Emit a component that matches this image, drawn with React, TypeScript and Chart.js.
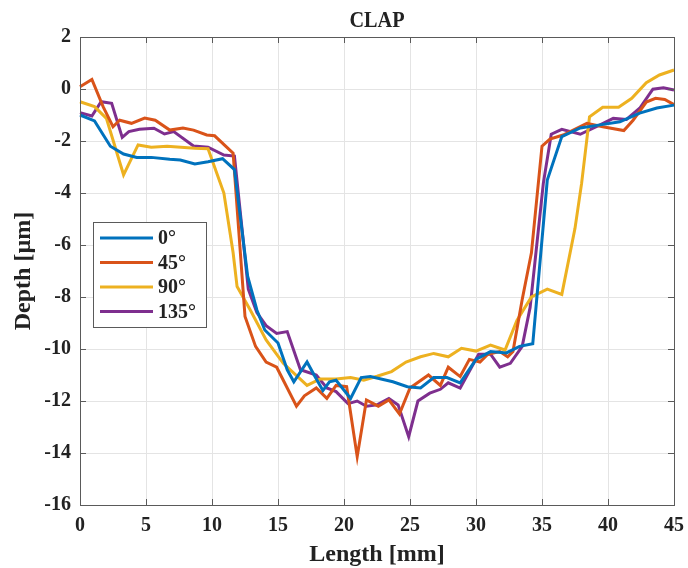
import React, { useEffect, useRef } from "react";
import { Chart, registerables } from "chart.js";

Chart.register(...registerables);

const TITLE = "CLAP";
const X_TITLE = "Length [mm]";
const Y_TITLE = "Depth [µm]";
const SERIES_LABELS = ["0°", "45°", "90°", "135°"];
const SERIES_COLORS = ["#0072BD", "#D95319", "#EDB120", "#7E2F8E"];

const X_MIN = 0;
const X_MAX = 45;
const X_STEP = 5;
const Y_MIN = -16;
const Y_MAX = 2;
const Y_STEP = 2;

const x0 = [0, 1.1, 2.3, 3.3, 4.3, 5.4, 6.8, 7.6, 8.7, 9.7, 10.8, 11.7, 12.7, 13.4, 14, 15, 15.7, 16.2, 17.2, 17.8, 18.4, 18.9, 19.4, 20.5, 21.3, 22, 23.7, 24.8, 25.8, 26.8, 27.8, 28.8, 30, 31.1, 32.3, 33.3, 34.3, 35.4, 36.5, 37.9, 39.4, 40.9, 42.4, 43.7, 45];
const y0 = [-1.0, -1.23, -2.2, -2.5, -2.63, -2.63, -2.7, -2.73, -2.88, -2.8, -2.68, -3.1, -7.2, -8.5, -9.27, -9.77, -10.8, -11.26, -10.5, -11.06, -11.6, -11.26, -11.2, -11.9, -11.1, -11.06, -11.26, -11.45, -11.5, -11.1, -11.1, -11.3, -10.4, -10.1, -10.15, -9.9, -9.8, -3.5, -1.83, -1.5, -1.38, -1.26, -0.93, -0.73, -0.62];

const x45 = [0, 0.9, 1.75, 2.5, 3.0, 3.9, 4.9, 5.7, 6.8, 7.8, 8.6, 9.6, 10.2, 11.6, 12.5, 13.3, 14.1, 14.9, 16.4, 17, 17.9, 18.7, 19.4, 20.2, 21, 21.7, 22.6, 23.4, 24.2, 25, 26.4, 27.3, 27.9, 28.8, 29.5, 30.3, 30.9, 31.8, 32.4, 32.8, 33.5, 34.2, 35, 35.6, 36.6, 38.4, 39.6, 41.2, 41.9, 42.9, 43.6, 44.3, 45];
const y45 = [0.09, 0.37, -0.68, -1.45, -1.2, -1.32, -1.12, -1.2, -1.58, -1.5, -1.58, -1.77, -1.8, -2.47, -8.75, -9.9, -10.5, -10.7, -12.2, -11.8, -11.5, -11.9, -11.4, -11.45, -14.14, -11.96, -12.2, -11.96, -12.5, -11.5, -11.0, -11.4, -10.7, -11.06, -10.4, -10.5, -10.2, -10.1, -10.3, -10.1, -8.1, -6.3, -2.2, -1.93, -1.77, -1.32, -1.45, -1.6, -1.2, -0.5, -0.36, -0.4, -0.6];

const x90 = [0, 1.1, 2, 3.3, 4.4, 5.4, 6.6, 8.7, 9.7, 10.9, 11.6, 11.9, 12.9, 14.1, 15.4, 17.2, 18.2, 19.4, 20.5, 21.5, 22.5, 23.6, 24.7, 25.8, 26.8, 27.9, 28.9, 30, 31.1, 32.2, 33.1, 34.2, 35.4, 36.5, 37.5, 38.0, 38.6, 39.6, 40.8, 41.8, 42.9, 43.9, 45];
const y90 = [-0.49, -0.68, -1.13, -3.3, -2.15, -2.24, -2.2, -2.28, -2.3, -4.0, -6.3, -7.6, -8.5, -9.65, -10.55, -11.4, -11.15, -11.15, -11.1, -11.2, -11.05, -10.87, -10.5, -10.3, -10.17, -10.3, -9.97, -10.08, -9.85, -10.04, -8.9, -8.0, -7.7, -7.9, -5.36, -3.63, -1.07, -0.7, -0.7, -0.36, 0.24, 0.54, 0.73];

const x135 = [0, 0.9, 1.6, 2.4, 3.2, 3.7, 4.5, 5.6, 6.4, 7.1, 8.6, 9.7, 10.9, 11.7, 12.75, 13.4, 14.1, 14.9, 15.7, 16.7, 17.9, 18.7, 19.4, 20.3, 21, 21.7, 22.5, 23.4, 24.1, 24.9, 25.6, 26.5, 27.3, 27.9, 28.8, 30.2, 31.1, 31.8, 32.6, 33.5, 34.1, 35.1, 35.7, 36.5, 37.9, 39.4, 40.4, 41.4, 42.4, 43.4, 44.2, 45];
const y135 = [-0.91, -1.04, -0.49, -0.55, -1.86, -1.64, -1.55, -1.51, -1.73, -1.64, -2.19, -2.24, -2.54, -2.58, -7.7, -8.6, -9.1, -9.4, -9.33, -10.8, -11.0, -11.5, -11.64, -12.1, -12.0, -12.2, -12.15, -11.9, -12.15, -13.37, -12.0, -11.7, -11.55, -11.3, -11.5, -10.2, -10.2, -10.7, -10.55, -9.9, -8.4, -3.63, -1.74, -1.55, -1.74, -1.38, -1.13, -1.17, -0.74, -0.01, 0.05, -0.04];

const SERIES_X = [x0, x45, x90, x135];
const SERIES_Y = [y0, y45, y90, y135];

const FONT = "'Liberation Serif', 'DejaVu Serif', serif";
const TEXT_COLOR = "#222222";

const decorPlugin = {
  id: "decor",
  afterDraw(chart: any) {
    const ctx = chart.ctx as CanvasRenderingContext2D;
    const a = chart.chartArea;
    const xs = chart.scales.x;
    const ys = chart.scales.y;
    ctx.save();
    ctx.strokeStyle = "#5a5a5a";
    ctx.lineWidth = 1;
    ctx.strokeRect(Math.round(a.left) + 0.5, Math.round(a.top) + 0.5, Math.round(a.right - a.left), Math.round(a.bottom - a.top));
    const tl = 6;
    ctx.beginPath();
    for (let v = X_MIN; v <= X_MAX; v += X_STEP) {
      const px = Math.round(xs.getPixelForValue(v)) + 0.5;
      ctx.moveTo(px, a.bottom);
      ctx.lineTo(px, a.bottom - tl);
      ctx.moveTo(px, a.top);
      ctx.lineTo(px, a.top + tl);
    }
    for (let v = Y_MIN; v <= Y_MAX; v += Y_STEP) {
      const py = Math.round(ys.getPixelForValue(v)) + 0.5;
      ctx.moveTo(a.left, py);
      ctx.lineTo(a.left + tl, py);
      ctx.moveTo(a.right, py);
      ctx.lineTo(a.right - tl, py);
    }
    ctx.stroke();

    const cx = (a.left + a.right) / 2;
    ctx.fillStyle = TEXT_COLOR;
    ctx.textAlign = "center";
    ctx.textBaseline = "alphabetic";
    ctx.save();
    ctx.translate(cx, 27);
    ctx.scale(0.88, 1);
    ctx.font = `bold 23px ${FONT}`;
    ctx.fillText(TITLE, 0, 0);
    ctx.restore();

    ctx.font = `bold 24px ${FONT}`;
    ctx.fillText(X_TITLE, cx, 561);

    ctx.save();
    ctx.translate(30, (a.top + a.bottom) / 2);
    ctx.rotate(-Math.PI / 2);
    ctx.fillText(Y_TITLE, 0, 0);
    ctx.restore();

    const bx = 93, by = 222, bw = 113, bh = 105;
    ctx.fillStyle = "#ffffff";
    ctx.fillRect(bx, by, bw, bh);
    ctx.strokeStyle = "#5a5a5a";
    ctx.lineWidth = 1;
    ctx.strokeRect(bx + 0.5, by + 0.5, bw, bh);
    const rowY = [238, 262.5, 287, 311.5];
    ctx.font = `bold 20px ${FONT}`;
    ctx.textAlign = "left";
    ctx.textBaseline = "middle";
    for (let i = 0; i < SERIES_LABELS.length; i++) {
      ctx.strokeStyle = SERIES_COLORS[i];
      ctx.lineWidth = 3;
      ctx.beginPath();
      ctx.moveTo(100, rowY[i]);
      ctx.lineTo(153, rowY[i]);
      ctx.stroke();
      ctx.fillStyle = TEXT_COLOR;
      ctx.fillText(SERIES_LABELS[i], 158, rowY[i] + 1);
    }
    ctx.restore();
  },
};

export default function App() {
  const ref = useRef<HTMLCanvasElement | null>(null);
  useEffect(() => {
    if (!ref.current) return;
    const datasets = SERIES_LABELS.map((label, i) => ({
      label,
      data: SERIES_X[i].map((x, j) => ({ x, y: SERIES_Y[i][j] })),
      borderColor: SERIES_COLORS[i],
      backgroundColor: SERIES_COLORS[i],
      borderWidth: 3,
      pointRadius: 0,
      tension: 0,
      fill: false,
      clip: 2,
    }));
    const chart = new Chart(ref.current, {
      type: "line",
      data: { datasets },
      options: {
        responsive: false,
        animation: false,
        devicePixelRatio: 1,
        layout: { padding: { top: 37, right: 14, left: 0, bottom: 0 } },
        plugins: {
          legend: { display: false },
          title: { display: false },
          tooltip: { enabled: false },
        },
        scales: {
          x: {
            type: "linear",
            min: X_MIN,
            max: X_MAX,
            border: { display: false },
            grid: { color: "#e4e4e4", drawTicks: false, lineWidth: 1 },
            ticks: {
              stepSize: X_STEP,
              padding: 9,
              color: TEXT_COLOR,
              font: { family: FONT, size: 20, weight: "bold" },
              maxRotation: 0,
            },
            afterFit: (s: any) => {
              s.height = 63;
              s.paddingLeft = 0;
              s.paddingRight = 0;
            },
          },
          y: {
            type: "linear",
            min: Y_MIN,
            max: Y_MAX,
            border: { display: false },
            grid: { color: "#e4e4e4", drawTicks: false, lineWidth: 1 },
            ticks: {
              stepSize: Y_STEP,
              padding: 9,
              color: TEXT_COLOR,
              font: { family: FONT, size: 20, weight: "bold" },
            },
            afterFit: (s: any) => {
              s.width = 80;
              s.paddingTop = 0;
              s.paddingBottom = 0;
            },
          },
        },
      },
      plugins: [decorPlugin],
    });
    return () => chart.destroy();
  }, []);
  return (
    <div style={{ position: "fixed", left: 0, top: 0, width: 688, height: 568, background: "#fff" }}>
      <canvas ref={ref} width={688} height={568} />
    </div>
  );
}
